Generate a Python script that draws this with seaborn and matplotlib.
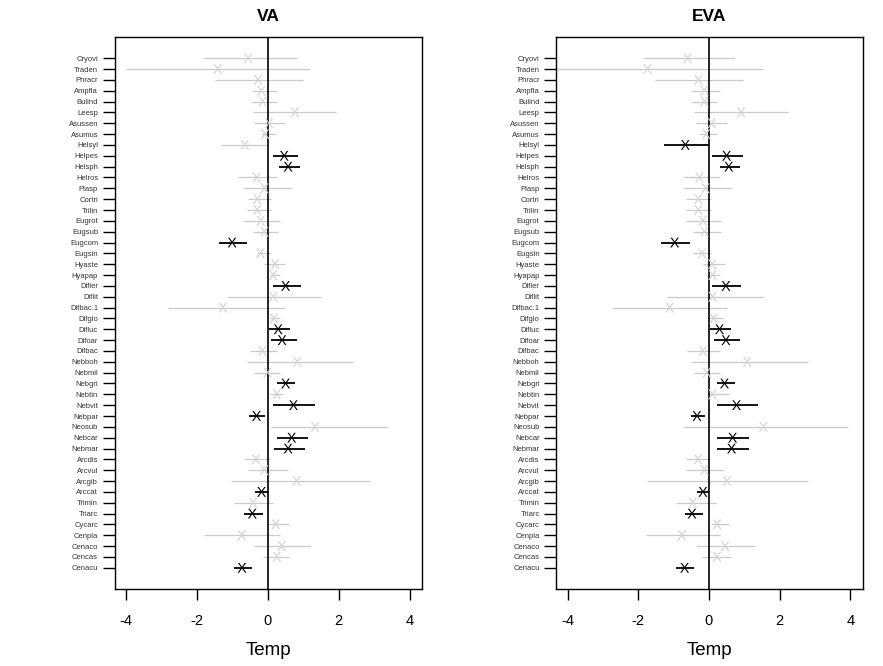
import matplotlib
matplotlib.use('Agg')
import matplotlib.pyplot as plt
import numpy as np
import pandas as pd
import seaborn as sns

species = [
    'Cryovi', 'Traden', 'Phracr', 'Ampfla', 'Bulind', 'Leesp', 'Asussen', 'Asumus',
    'Helsyl', 'Helpes', 'Helsph', 'Helros', 'Plasp', 'Cortri', 'Trilin', 'Eugrot',
    'Eugsub', 'Eugcom', 'Eugsin', 'Hyaste', 'Hyapap', 'Difler', 'Diflit', 'Difbac.1',
    'Difglo', 'Difluc', 'Difoar', 'Difbac', 'Nebboh', 'Nebmil', 'Nebgri', 'Nebtin',
    'Nebvit', 'Nebpar', 'Neosub', 'Nebcar', 'Nebmar', 'Arcdis', 'Arcvul', 'Arcgib',
    'Arccat', 'Trimin', 'Triarc', 'Cycarc', 'Cenpla', 'Cenaco', 'Cencas', 'Cenacu',
]

va_est = [-0.56, -1.42, -0.28, -0.18, -0.15, 0.76, 0.03, -0.08,
          -0.65, 0.46, 0.57, -0.32, -0.10, -0.30, -0.30, -0.20,
          -0.10, -1.01, -0.21, 0.20, 0.15, 0.50, 0.15, -1.27,
          0.17, 0.29, 0.40, -0.15, 0.83, -0.01, 0.50, 0.25,
          0.72, -0.32, 1.33, 0.67, 0.57, -0.34, -0.10, 0.81,
          -0.18, -0.42, -0.44, 0.22, -0.74, 0.39, 0.25, -0.73]
va_lo = [-1.84, -4.00, -1.50, -0.46, -0.49, -0.42, -0.40, -0.18,
         -1.31, 0.13, 0.31, -0.85, -0.70, -0.56, -0.60, -0.70,
         -0.42, -1.38, -0.32, -0.11, 0.06, 0.15, -1.16, -2.83,
         0.06, 0.04, 0.08, -0.51, -0.58, -0.39, 0.26, 0.06,
         0.15, -0.53, 0.10, 0.27, 0.18, -0.67, -0.56, -1.05,
         -0.37, -0.95, -0.68, 0.01, -1.80, -0.39, -0.15, -0.95]
va_hi = [0.82, 1.19, 1.00, 0.25, 0.25, 1.92, 0.48, 0.23,
         0.00, 0.84, 0.90, 0.25, 0.67, 0.10, 0.10, 0.34,
         0.29, -0.60, 0.10, 0.48, 0.34, 0.92, 1.51, 0.48,
         0.34, 0.62, 0.81, 0.25, 2.41, 0.34, 0.76, 0.43,
         1.33, -0.08, 3.40, 1.12, 1.04, 0.07, 0.57, 2.88,
         0.01, 0.15, -0.15, 0.60, 0.34, 1.23, 0.60, -0.44]

eva_est = [-0.60, -1.74, -0.30, -0.13, -0.13, 0.91, 0.08, -0.08,
           -0.67, 0.50, 0.56, -0.27, -0.10, -0.30, -0.30, -0.17,
           -0.13, -0.97, -0.20, 0.09, 0.10, 0.48, 0.10, -1.11,
           0.13, 0.30, 0.48, -0.17, 1.08, -0.06, 0.44, 0.10,
           0.78, -0.34, 1.54, 0.67, 0.64, -0.31, -0.13, 0.51,
           -0.17, -0.46, -0.48, 0.23, -0.77, 0.46, 0.23, -0.69]
eva_lo = [-1.86, -4.60, -1.54, -0.50, -0.50, -0.41, -0.38, -0.27,
          -1.28, 0.09, 0.30, -0.74, -0.74, -0.64, -0.64, -0.64,
          -0.44, -1.35, -0.46, -0.17, 0.03, 0.09, -1.18, -2.75,
          -0.03, 0.03, 0.13, -0.62, -0.52, -0.41, 0.22, -0.03,
          0.22, -0.52, -0.74, 0.23, 0.23, -0.64, -0.66, -1.74,
          -0.33, -0.92, -0.69, 0.06, -1.77, -0.36, -0.20, -0.94]
eva_hi = [0.75, 1.54, 0.97, 0.30, 0.22, 2.25, 0.50, 0.22,
          0.01, 0.97, 0.88, 0.30, 0.65, 0.06, 0.06, 0.34,
          0.34, -0.55, 0.06, 0.44, 0.30, 0.91, 1.56, 0.50,
          0.39, 0.62, 0.88, 0.30, 2.81, 0.30, 0.75, 0.56,
          1.40, -0.10, 3.94, 1.12, 1.12, 0.04, 0.42, 2.81,
          0.01, 0.20, -0.17, 0.56, 0.30, 1.31, 0.62, -0.43]

va_sig = ['Helpes', 'Helsph', 'Eugcom', 'Difler', 'Difluc', 'Difoar', 'Nebgri',
          'Nebvit', 'Nebpar', 'Nebcar', 'Nebmar', 'Arccat', 'Triarc', 'Cenacu']
eva_sig = ['Helsyl'] + va_sig

panels = [
    ('VA', va_est, va_lo, va_hi, va_sig),
    ('EVA', eva_est, eva_lo, eva_hi, eva_sig),
]

sns.set_style('ticks')
plt.rcParams['font.family'] = ['Liberation Sans', 'DejaVu Sans']
plt.rcParams['mathtext.fontset'] = 'custom'
plt.rcParams['mathtext.rm'] = 'Liberation Sans'
plt.rcParams['text.color'] = 'black'
plt.rcParams['axes.labelcolor'] = 'black'
plt.rcParams['xtick.color'] = 'black'
plt.rcParams['ytick.color'] = 'black'

LINE_COLORS = {True: 'black', False: '#cacaca'}
MARK_COLORS = {True: 'black', False: '#d2d2d2'}

fig = plt.figure(figsize=(8.83, 6.66), dpi=100)
axes = [fig.add_axes([0.130, 0.116, 0.348, 0.828]),
        fig.add_axes([0.630, 0.116, 0.347, 0.828])]

for ax, (title, est, lo, hi, sig) in zip(axes, panels):
    df = pd.DataFrame({'species': species, 'est': est, 'lo': lo, 'hi': hi})
    df['pos'] = np.arange(len(df))
    df['sig'] = df['species'].isin(sig)
    df = df.sort_values('sig', kind='stable')

    for flag, grp in df.groupby('sig'):
        ax.hlines(grp['pos'], grp['lo'], grp['hi'], color=LINE_COLORS[flag],
                  linewidth=1.3 if flag else 0.9, zorder=2 if flag else 1)
    ax.axvline(0, color='black', linewidth=1.2, zorder=1.5)
    sns.scatterplot(data=df, x='est', y='pos', hue='sig', palette=MARK_COLORS,
                    marker=r'$\mathrm{X}$', s=50, linewidth=0, legend=False,
                    ax=ax, zorder=3)

    ax.set_xlim(-4.32, 4.35)
    ax.set_ylim(len(species) - 1 + 1.93, -1.93)
    ax.set_xticks([-4, -2, 0, 2, 4])
    ax.set_xticklabels(['-4', '-2', '0', '2', '4'], fontsize=10.5)
    ax.set_yticks(np.arange(len(species)))
    ax.set_yticklabels(species, fontsize=5.5, color='#333333')
    ax.tick_params(axis='x', length=8, width=1, pad=10)
    ax.tick_params(axis='y', length=9, width=1, pad=3)
    ax.set_xlabel('Temp', fontsize=13.5, labelpad=10)
    ax.set_ylabel('')
    ax.set_title(title, fontsize=12.5, fontweight='bold', pad=12)
    for spine in ax.spines.values():
        spine.set_visible(True)
        spine.set_color('black')
        spine.set_linewidth(1)

fig.savefig('out.png', dpi=100)
